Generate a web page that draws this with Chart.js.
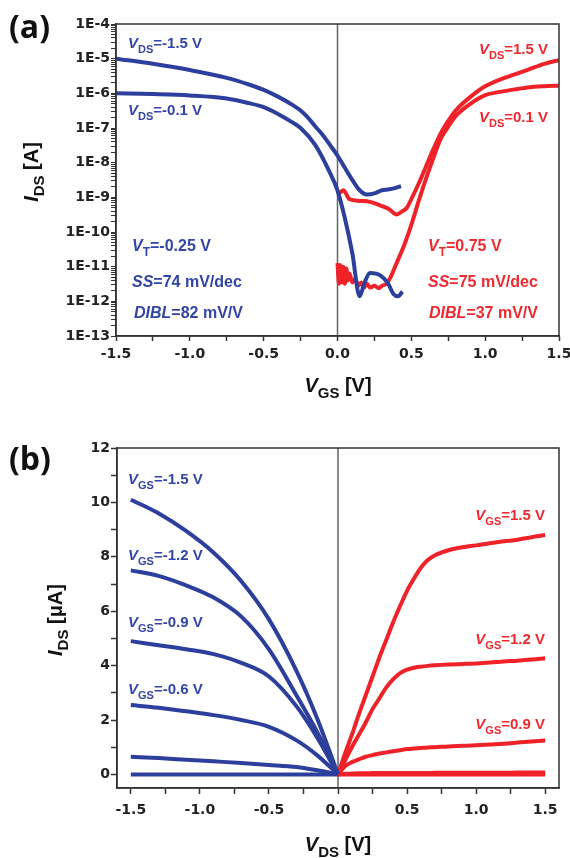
<!DOCTYPE html>
<html>
<head>
<meta charset="utf-8">
<script src="https://cdn.jsdelivr.net/npm/chart.js@4.4.0/dist/chart.umd.min.js"></script>
<style>
html, body { margin: 0; padding: 0; background: #fff; }
#wrap { position: relative; width: 570px; height: 858px; }
.box { position: absolute; left: 0; width: 570px; }
#boxA { top: 0; height: 420px; }
#boxB { top: 420px; height: 438px; }
</style>
</head>
<body>
<div id="wrap">
  <div class="box" id="boxA"><canvas id="chartA"></canvas></div>
  <div class="box" id="boxB"><canvas id="chartB"></canvas></div>
</div>
<script>
// ---- (a) transfer curves, I_DS [A] vs V_GS [V] ----
const pHighVgs = [-1.5, -1.25, -1.0, -0.75, -0.6, -0.5, -0.4, -0.3, -0.25, -0.2, -0.15, -0.1, -0.05, 0, 0.05, 0.1, 0.15, 0.2, 0.25, 0.3, 0.35, 0.4, 0.43];
const pHighIds = [1.0e-5, 7.1e-6, 4.7e-6, 2.8e-6, 1.8e-6, 1.26e-6, 7.9e-7, 4.5e-7, 3.2e-7, 2.0e-7, 1.1e-7, 6.3e-8, 3.2e-8, 1.6e-8, 7.1e-9, 3.2e-9, 1.6e-9, 1.2e-9, 1.3e-9, 1.6e-9, 1.7e-9, 1.9e-9, 2.1e-9];

const pLowVgs = [-1.5, -1.25, -1.0, -0.75, -0.6, -0.5, -0.4, -0.3, -0.25, -0.15, -0.05, 0, 0.05, 0.1, 0.15, 0.18, 0.22, 0.26, 0.29, 0.34, 0.38, 0.41, 0.44];
const pLowIds = [1.0e-6, 9.5e-7, 8.7e-7, 7.1e-7, 5.2e-7, 4.0e-7, 2.5e-7, 1.4e-7, 1.0e-7, 3.2e-8, 5.0e-9, 1.6e-9, 2.5e-10, 2.5e-11, 1.4e-12, 3.2e-12, 6.6e-12, 6.3e-12, 5.6e-12, 3.4e-12, 1.6e-12, 1.4e-12, 1.9e-12];

const nHighVgs = [0, 0.02, 0.04, 0.08, 0.15, 0.22, 0.3, 0.35, 0.4, 0.44, 0.47, 0.5, 0.55, 0.6, 0.65, 0.7, 0.75, 0.8, 0.9, 1.0, 1.1, 1.2, 1.3, 1.4, 1.5];
const nHighIds = [1.2e-9, 1.4e-9, 1.6e-9, 8.9e-10, 7.9e-10, 7.4e-10, 5.6e-10, 4.5e-10, 3.2e-10, 4.0e-10, 5.0e-10, 8.9e-10, 2.5e-9, 7.9e-9, 2.5e-8, 7.1e-8, 1.6e-7, 3.2e-7, 7.9e-7, 1.6e-6, 2.5e-6, 3.5e-6, 5.0e-6, 7.1e-6, 9.1e-6];

const nLowVgs = [0, 0.01, 0.02, 0.03, 0.04, 0.05, 0.06, 0.07, 0.08, 0.1, 0.12, 0.14, 0.16, 0.18, 0.2, 0.22, 0.25, 0.28, 0.3, 0.33, 0.36, 0.38, 0.4, 0.45, 0.5, 0.55, 0.6, 0.65, 0.7, 0.75, 0.8, 0.9, 1.0, 1.1, 1.2, 1.3, 1.4, 1.5];
const nLowIds = [1.26e-11, 3.2e-12, 1.1e-11, 3.5e-12, 1.0e-11, 3.2e-12, 8.9e-12, 4.0e-12, 6.3e-12, 3.5e-12, 4.5e-12, 2.8e-12, 3.5e-12, 2.5e-12, 3.2e-12, 2.5e-12, 2.8e-12, 2.4e-12, 2.8e-12, 3.2e-12, 5.0e-12, 7.9e-12, 1.26e-11, 4.0e-11, 1.6e-10, 7.9e-10, 3.5e-9, 1.4e-8, 5.0e-8, 1.1e-7, 2.2e-7, 5.0e-7, 8.9e-7, 1.1e-6, 1.3e-6, 1.5e-6, 1.6e-6, 1.66e-6];

// ---- (b) output curves, I_DS [uA] vs V_DS [V] ----
const negVds = [-1.5, -1.3, -1.1, -0.9, -0.7, -0.5, -0.3, -0.15, 0];
const pIds15 = [10.1, 9.6, 8.95, 8.15, 7.1, 5.7, 3.8, 2.05, 0];
const pIds12 = [7.5, 7.3, 6.95, 6.5, 5.8, 4.6, 2.9, 1.55, 0];
const pIds09 = [4.9, 4.75, 4.6, 4.42, 4.1, 3.6, 2.5, 1.35, 0];
const pIds06 = [2.55, 2.45, 2.32, 2.18, 2.0, 1.75, 1.25, 0.7, 0];
const pIds03 = [0.65, 0.6, 0.54, 0.48, 0.42, 0.35, 0.27, 0.15, 0];
const pIds00 = [0, 0, 0, 0, 0, 0, 0, 0, 0];

const posVds = [0, 0.05, 0.1, 0.15, 0.2, 0.25, 0.3, 0.35, 0.4, 0.45, 0.5, 0.55, 0.6, 0.65, 0.7, 0.8, 0.9, 1.0, 1.1, 1.2, 1.3, 1.4, 1.5];
const nIds15 = [0, 0.75, 1.45, 2.2, 2.9, 3.6, 4.3, 4.95, 5.6, 6.2, 6.75, 7.2, 7.6, 7.88, 8.05, 8.24, 8.35, 8.42, 8.5, 8.57, 8.63, 8.72, 8.8];
const nIds12 = [0, 0.5, 1.0, 1.45, 1.9, 2.4, 2.8, 3.2, 3.5, 3.72, 3.85, 3.92, 3.96, 3.99, 4.01, 4.04, 4.06, 4.08, 4.11, 4.15, 4.18, 4.22, 4.27];
const nIds09 = [0, 0.3, 0.45, 0.55, 0.65, 0.71, 0.77, 0.81, 0.85, 0.89, 0.93, 0.95, 0.97, 0.99, 1.0, 1.03, 1.05, 1.07, 1.1, 1.13, 1.17, 1.21, 1.25];
const nIds06 = [0, 0.02, 0.03, 0.04, 0.04, 0.05, 0.05, 0.05, 0.05, 0.05, 0.05, 0.05, 0.05, 0.05, 0.06, 0.06, 0.06, 0.06, 0.06, 0.06, 0.07, 0.07, 0.07];
const nIds03 = [0, 0, 0, 0, 0, 0, 0, 0, 0, 0, 0, 0, 0, 0, 0, 0, 0, 0, 0, 0, 0, 0, 0];

// ---- ticks ----
const vTicks = [-1.5, -1.0, -0.5, 0, 0.5, 1.0, 1.5];
const vTickLabels = ['-1.5', '-1.0', '-0.5', '0.0', '0.5', '1.0', '1.5'];
const decadeExps = [-13, -12, -11, -10, -9, -8, -7, -6, -5, -4];
const decadeLabels = ['1E-13', '1E-12', '1E-11', '1E-10', '1E-9', '1E-8', '1E-7', '1E-6', '1E-5', '1E-4'];
const uaTicks = [0, 2, 4, 6, 8, 10, 12];
const uaTickLabels = ['0', '2', '4', '6', '8', '10', '12'];

const blue = '#2d3f9c';
const red = '#ee2228';
const blueText = '#3345a6';
const redText = '#ee2a30';
const axisColor = '#333';
const fam = '"Liberation Sans", Arial, sans-serif';
const tickFont = { family: '"DejaVu Sans", sans-serif', size: 14, weight: 'bold' };

const pts = (xs, ys) => xs.map((x, i) => ({ x: x, y: ys[i] }));

function drawRich(ctx, parts, x, y, size, color, align) {
  const fontFor = k => (k === 'i' ? 'italic ' : '') + 'bold ' + (k === 's' ? Math.round(size * 0.74) : size) + 'px ' + fam;
  let w = 0;
  parts.forEach(p => { ctx.font = fontFor(p[1]); w += ctx.measureText(p[0]).width; });
  let cx = align === 'right' ? x - w : align === 'center' ? x - w / 2 : x;
  ctx.fillStyle = color;
  ctx.textAlign = 'left';
  ctx.textBaseline = 'alphabetic';
  parts.forEach(p => {
    ctx.font = fontFor(p[1]);
    ctx.fillText(p[0], cx, p[1] === 's' ? y + size * 0.32 : y);
    cx += ctx.measureText(p[0]).width;
  });
}

function linTickBuilder(majors, minorStep) {
  return function (scale) {
    const lo = majors[0], hi = majors[majors.length - 1];
    const n = Math.round((hi - lo) / minorStep);
    const out = [];
    for (let i = 0; i <= n; i++) out.push({ value: +(lo + i * minorStep).toFixed(4) });
    scale.ticks = out;
  };
}
function linLabel(majors, labels) {
  return function (v) {
    const i = majors.findIndex(m => Math.abs(m - v) < 1e-6);
    return i >= 0 ? labels[i] : '';
  };
}

function panelPlugin(cfg) {
  return {
    id: 'panel' + cfg.name,
    beforeDatasetsDraw(chart) {
      const { ctx, chartArea: a, scales } = chart;
      const x0 = scales.x.getPixelForValue(0);
      ctx.save();
      ctx.strokeStyle = '#666';
      ctx.lineWidth = 1.5;
      ctx.beginPath();
      ctx.moveTo(x0, a.top);
      ctx.lineTo(x0, a.bottom);
      ctx.stroke();
      ctx.restore();
    },
    afterDatasetsDraw(chart) {
      const { ctx, chartArea: a } = chart;
      ctx.save();
      ctx.strokeStyle = axisColor;
      ctx.lineWidth = 1.5;
      ctx.strokeRect(a.left, a.top, a.right - a.left, a.bottom - a.top);
      // panel tag
      ctx.fillStyle = '#111';
      ctx.font = 'bold 32px "Open Sans", sans-serif';
      ctx.textAlign = 'left';
      ctx.textBaseline = 'alphabetic';
      ctx.fillText(cfg.tag, 9, cfg.tagY);
      // x title
      drawRich(ctx, cfg.xTitle, cfg.xTitlePos[0], cfg.xTitlePos[1], 20, '#111', 'center');
      // y title
      ctx.translate(cfg.yTitlePos[0], cfg.yTitlePos[1]);
      ctx.rotate(-Math.PI / 2);
      drawRich(ctx, cfg.yTitle, 0, 0, 20, '#111', 'center');
      ctx.restore();
      ctx.save();
      cfg.notes.forEach(n => drawRich(ctx, n.parts, n.x, n.y, n.size, n.color, n.align));
      ctx.restore();
    }
  };
}

const baseOpts = {
  responsive: true,
  maintainAspectRatio: false,
  animation: false,
  devicePixelRatio: 1,
  plugins: { legend: { display: false }, tooltip: { enabled: false } },
  elements: { point: { radius: 0 }, line: { borderWidth: 4, cubicInterpolationMode: 'monotone' } }
};

// ---- chart (a) ----
new Chart(document.getElementById('chartA'), {
  type: 'line',
  data: {
    datasets: [
      { data: pts(pHighVgs, pHighIds), borderColor: blue },
      { data: pts(pLowVgs, pLowIds), borderColor: blue },
      { data: pts(nHighVgs, nHighIds), borderColor: red },
      { data: pts(nLowVgs, nLowIds), borderColor: red }
    ]
  },
  options: Object.assign({}, baseOpts, {
    layout: { padding: { top: 24, right: 11, left: 0, bottom: 0 } },
    scales: {
      x: {
        type: 'linear', min: -1.5, max: 1.5,
        afterBuildTicks: linTickBuilder(vTicks, 0.25),
        afterFit: s => { s.height = 84; s.paddingLeft = 0; s.paddingRight = 0; },
        ticks: { autoSkip: false, maxRotation: 0, padding: 5, color: '#222', font: tickFont, callback: linLabel(vTicks, vTickLabels) },
        grid: { drawOnChartArea: false, tickLength: 5, color: axisColor, tickWidth: 1.5 },
        border: { color: axisColor, width: 1.5 }
      },
      y: {
        type: 'logarithmic', min: 1e-13, max: 1e-4,
        afterBuildTicks: s => {
          const out = [];
          for (let e = -13; e < -4; e++) for (let k = 1; k <= 9; k++) out.push({ value: k * Math.pow(10, e) });
          out.push({ value: 1e-4 });
          s.ticks = out;
        },
        afterFit: s => { s.width = 116; },
        ticks: {
          autoSkip: false, padding: 1, color: '#222', font: tickFont,
          callback: v => {
            const i = decadeExps.findIndex(e => Math.abs(Math.log10(v) - e) < 1e-6);
            return i >= 0 ? decadeLabels[i] : '';
          }
        },
        grid: { drawOnChartArea: false, tickLength: 5, color: axisColor, tickWidth: 1 },
        border: { color: axisColor, width: 1.5 }
      }
    }
  }),
  plugins: [panelPlugin({
    name: 'A', tag: '(a)', tagY: 38,
    xTitle: [['V', 'i'], ['GS', 's'], [' [V]', 'n']], xTitlePos: [338, 392],
    yTitle: [['I', 'i'], ['DS', 's'], [' [A]', 'n']], yTitlePos: [38, 172],
    notes: [
      { parts: [['V', 'i'], ['DS', 's'], ['=-1.5 V', 'n']], x: 128, y: 48, size: 15, color: blueText, align: 'left' },
      { parts: [['V', 'i'], ['DS', 's'], ['=-0.1 V', 'n']], x: 128, y: 115, size: 15, color: blueText, align: 'left' },
      { parts: [['V', 'i'], ['DS', 's'], ['=1.5 V', 'n']], x: 548, y: 54, size: 15, color: redText, align: 'right' },
      { parts: [['V', 'i'], ['DS', 's'], ['=0.1 V', 'n']], x: 548, y: 122, size: 15, color: redText, align: 'right' },
      { parts: [['V', 'i'], ['T', 's'], ['=-0.25 V', 'n']], x: 132, y: 251, size: 16, color: blueText, align: 'left' },
      { parts: [['SS', 'i'], ['=74 mV/dec', 'n']], x: 132, y: 287, size: 16, color: blueText, align: 'left' },
      { parts: [['DIBL', 'i'], ['=82 mV/V', 'n']], x: 134, y: 318, size: 16, color: blueText, align: 'left' },
      { parts: [['V', 'i'], ['T', 's'], ['=0.75 V', 'n']], x: 428, y: 251, size: 16, color: redText, align: 'left' },
      { parts: [['SS', 'i'], ['=75 mV/dec', 'n']], x: 428, y: 287, size: 16, color: redText, align: 'left' },
      { parts: [['DIBL', 'i'], ['=37 mV/V', 'n']], x: 429, y: 318, size: 16, color: redText, align: 'left' }
    ]
  })]
});

// ---- chart (b) ----
new Chart(document.getElementById('chartB'), {
  type: 'line',
  data: {
    datasets: [
      { data: pts(negVds, pIds15), borderColor: blue },
      { data: pts(negVds, pIds12), borderColor: blue },
      { data: pts(negVds, pIds09), borderColor: blue },
      { data: pts(negVds, pIds06), borderColor: blue },
      { data: pts(negVds, pIds03), borderColor: blue },
      { data: pts(negVds, pIds00), borderColor: blue },
      { data: pts(posVds, nIds15), borderColor: red },
      { data: pts(posVds, nIds12), borderColor: red },
      { data: pts(posVds, nIds09), borderColor: red },
      { data: pts(posVds, nIds06), borderColor: red },
      { data: pts(posVds, nIds03), borderColor: red }
    ]
  },
  options: Object.assign({}, baseOpts, {
    layout: { padding: { top: 28, right: 11, left: 0, bottom: 0 } },
    scales: {
      x: {
        type: 'linear', min: -1.6, max: 1.6,
        afterBuildTicks: linTickBuilder(vTicks, 0.25),
        afterFit: s => { s.height = 70; s.paddingLeft = 0; s.paddingRight = 0; },
        ticks: { autoSkip: false, maxRotation: 0, padding: 8, color: '#222', font: tickFont, callback: linLabel(vTicks, vTickLabels) },
        grid: { drawOnChartArea: false, tickLength: 6, color: axisColor, tickWidth: 1.5 },
        border: { color: axisColor, width: 1.5 }
      },
      y: {
        type: 'linear', min: -0.5, max: 12,
        afterBuildTicks: linTickBuilder(uaTicks, 1),
        afterFit: s => { s.width = 117; },
        ticks: { autoSkip: false, padding: 1, color: '#222', font: tickFont, callback: linLabel(uaTicks, uaTickLabels) },
        grid: { drawOnChartArea: false, tickLength: 6, color: axisColor, tickWidth: 1.5 },
        border: { color: axisColor, width: 1.5 }
      }
    }
  }),
  plugins: [panelPlugin({
    name: 'B', tag: '(b)', tagY: 50,
    xTitle: [['V', 'i'], ['DS', 's'], [' [V]', 'n']], xTitlePos: [338, 431],
    yTitle: [['I', 'i'], ['DS', 's'], [' [\u03bcA]', 'n']], yTitlePos: [62, 200],
    notes: [
      { parts: [['V', 'i'], ['GS', 's'], ['=-1.5 V', 'n']], x: 128, y: 64, size: 15, color: blueText, align: 'left' },
      { parts: [['V', 'i'], ['GS', 's'], ['=-1.2 V', 'n']], x: 128, y: 140, size: 15, color: blueText, align: 'left' },
      { parts: [['V', 'i'], ['GS', 's'], ['=-0.9 V', 'n']], x: 128, y: 207, size: 15, color: blueText, align: 'left' },
      { parts: [['V', 'i'], ['GS', 's'], ['=-0.6 V', 'n']], x: 128, y: 274, size: 15, color: blueText, align: 'left' },
      { parts: [['V', 'i'], ['GS', 's'], ['=1.5 V', 'n']], x: 545, y: 100, size: 15, color: redText, align: 'right' },
      { parts: [['V', 'i'], ['GS', 's'], ['=1.2 V', 'n']], x: 545, y: 224, size: 15, color: redText, align: 'right' },
      { parts: [['V', 'i'], ['GS', 's'], ['=0.9 V', 'n']], x: 545, y: 309, size: 15, color: redText, align: 'right' }
    ]
  })]
});
</script>
</body>
</html>
